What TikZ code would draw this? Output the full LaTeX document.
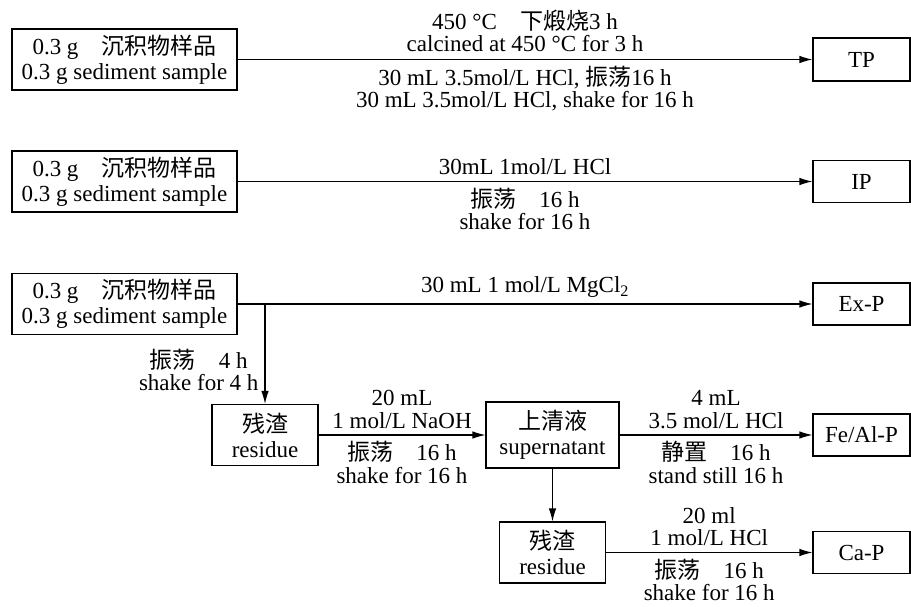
\documentclass[tikz,border=0pt]{standalone}
\usepackage{fontspec}
\setmainfont{Liberation Serif}
\newfontfamily\cjk{Noto Sans CJK SC}
\usetikzlibrary{arrows.meta}
\begin{document}
\begin{tikzpicture}[x=1pt,y=-1pt,
  box/.style={draw, line width=1.1pt, inner sep=0pt, align=center, font=\fontsize{23}{25}\selectfont},
  lbl/.style={align=center, font=\fontsize{23}{22.5}\selectfont, inner sep=2pt},
  up/.style={lbl, midway, above=4pt},
  dn/.style={lbl, midway, below=4pt},
  arr/.style={line width=1.1pt, -{Latex[length=13pt,width=7.5pt]}}]
\useasboundingbox (0,0) rectangle (911,607);
% row 1
\node[box, minimum width=225pt, minimum height=61pt] (s1) at (124.5,59.5) {0.3 g\quad{\cjk 沉积物样品}\\0.3 g sediment sample};
\node[box, minimum width=97pt, minimum height=43pt] (tp) at (861.5,59.5) {TP};
\draw[arr] (s1.east) -- (tp.west)
  node[lbl, midway, above=5pt] {450 °C\quad{\cjk 下煅烧}3 h\\calcined at 450 °C for 3 h}
  node[dn] {30 mL 3.5mol/L HCl, {\cjk 振荡}16 h\\30 mL 3.5mol/L HCl, shake for 16 h};
% row 2
\node[box, minimum width=225pt, minimum height=61pt] (s2) at (124.5,181.5) {0.3 g\quad{\cjk 沉积物样品}\\0.3 g sediment sample};
\node[box, minimum width=97pt, minimum height=42pt] (ip) at (861.5,181.5) {IP};
\draw[arr] (s2.east) -- (ip.west)
  node[up] {30mL 1mol/L HCl}
  node[dn] {{\cjk 振荡}\quad 16 h\\shake for 16 h};
% row 3
\node[box, minimum width=225pt, minimum height=61pt] (s3) at (124.5,304) {0.3 g\quad{\cjk 沉积物样品}\\0.3 g sediment sample};
\node[box, minimum width=97pt, minimum height=42pt] (exp) at (861.5,304) {Ex-P};
\draw[arr] (s3.east) -- (exp.west)
  node[up] {30 mL 1 mol/L MgCl\textsubscript{2}};
\node[box, minimum width=106pt, minimum height=61pt] (r1) at (265,435) {{\cjk 残渣}\\residue};
\coordinate (br) at (r1.north |- s3.east);
\draw[arr] (br) -- (r1.north)
  node[lbl, pos=0.66, left=4pt] {{\cjk 振荡}\quad 4 h\\shake for 4 h};
\node[box, minimum width=133pt, minimum height=66pt] (sup) at (552.5,435) {{\cjk 上清液}\\supernatant};
\draw[arr] (r1.east) -- (sup.west)
  node[up] {20 mL\\1 mol/L NaOH}
  node[dn] {{\cjk 振荡}\quad 16 h\\shake for 16 h};
\node[box, minimum width=97pt, minimum height=42pt] (feal) at (861.5,435) {Fe/Al-P};
\draw[arr] (sup.east) -- (feal.west)
  node[up] {4 mL\\3.5 mol/L HCl}
  node[dn] {{\cjk 静置}\quad 16 h\\stand still 16 h};
\node[box, minimum width=106pt, minimum height=61pt] (r2) at (552.5,552.5) {{\cjk 残渣}\\residue};
\draw[arr] (sup.south) -- (r2.north);
\node[box, minimum width=97pt, minimum height=42pt] (cap) at (861.5,552.5) {Ca-P};
\draw[arr] (r2.east) -- (cap.west)
  node[up] {20 ml\\1 mol/L HCl}
  node[dn] {{\cjk 振荡}\quad 16 h\\shake for 16 h};
\end{tikzpicture}
\end{document}
